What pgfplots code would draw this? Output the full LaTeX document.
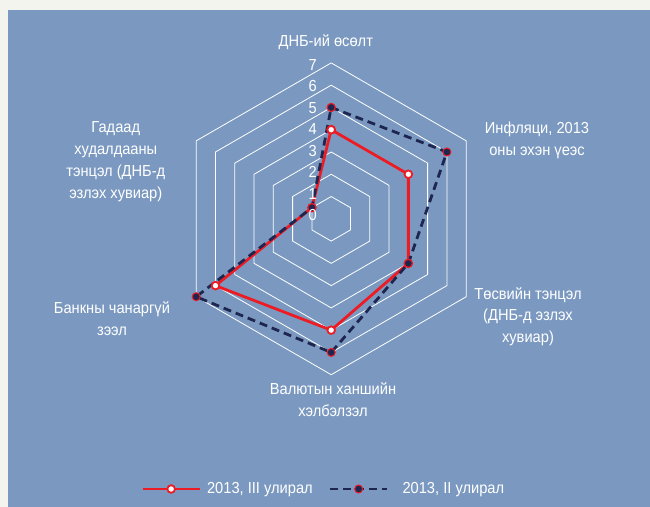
\documentclass[border=0pt]{standalone}
\usepackage{pgfplots}
\pgfplotsset{compat=1.18}
\usepackage{fontspec}
\setmainfont{Liberation Sans}[FakeStretch=0.92]
\definecolor{bgblue}{RGB}{123,153,192}
\definecolor{beige}{RGB}{244,244,238}
\definecolor{sred}{RGB}{237,28,36}
\definecolor{snavy}{RGB}{30,38,80}
\begin{document}
\begin{tikzpicture}
\fill[beige] (0bp,0bp) rectangle (650bp,507bp);
\fill[bgblue] (8bp,0bp) rectangle (650bp,497bp);
\begin{axis}[
  at={(0bp,0bp)}, anchor=south west,
  x=22.27bp, y=22.27bp,
  xmin=-14.872, xmax=14.315, ymin=-12.941, ymax=9.825,
  hide axis, clip=false,
  legend columns=2,
  legend style={at={(0.498,0.0355)}, anchor=center, draw=none, fill=none,
    text=white, font=\fontsize{16}{18}\selectfont,
    /tikz/every even column/.append style={column sep=14bp}},
  legend image code/.code={\draw[mark repeat=2,mark phase=2,#1] plot coordinates {(0bp,0bp) (28.5bp,0bp) (57bp,0bp)};},
]
\pgfplotsinvokeforeach{1,...,7}{
  \addplot[white, line width=0.8bp, data cs=polar, forget plot, mark=none]
    coordinates {(90,#1) (30,#1) (-30,#1) (-90,#1) (-150,#1) (150,#1) (90,#1)};
}
\addplot[sred, line width=2.8bp, data cs=polar, mark=*, mark size=3.8bp,
  mark options={fill=white, draw=sred, line width=1.8bp, solid}]
  coordinates {(90,4) (30,4) (-30,4) (-90,5) (-150,6) (150,1) (90,4)};
\addlegendentry{\hspace{4bp}2013, III улирал}
\addplot[snavy, line width=2.8bp, dash pattern=on 8bp off 5bp, data cs=polar, mark=*, mark size=4bp,
  mark options={fill=snavy, draw=sred, line width=1bp, solid}]
  coordinates {(90,5) (30,6) (-30,4) (-90,6) (-150,7) (150,1) (90,5)};
\addlegendentry{\hspace{12bp}2013, II улирал}
\end{axis}
\begin{scope}[every node/.style={text=white, font=\fontsize{16}{22}\selectfont, align=center}]
\node at (325.8bp,465.3bp) {ДНБ-ий өсөлт};
\node at (537bp,366.5bp) {Инфляци, 2013\\оны эхэн үеэс};
\node at (528bp,190.3bp) {Төсвийн тэнцэл\\(ДНБ-д эзлэх\\хувиар)};
\node at (333bp,107bp) {Валютын ханшийн\\хэлбэлзэл};
\node at (112bp,188.3bp) {Банкны чанаргүй\\зээл};
\node at (115.8bp,345.3bp) {Гадаад\\худалдааны\\тэнцэл (ДНБ-д\\эзлэх хувиар)};
\foreach \k in {0,...,7}{
  \node[anchor=east, inner sep=0pt] at (317bp,{292bp+21.43bp*\k}) {\k};
}
\end{scope}
\end{tikzpicture}
\end{document}
